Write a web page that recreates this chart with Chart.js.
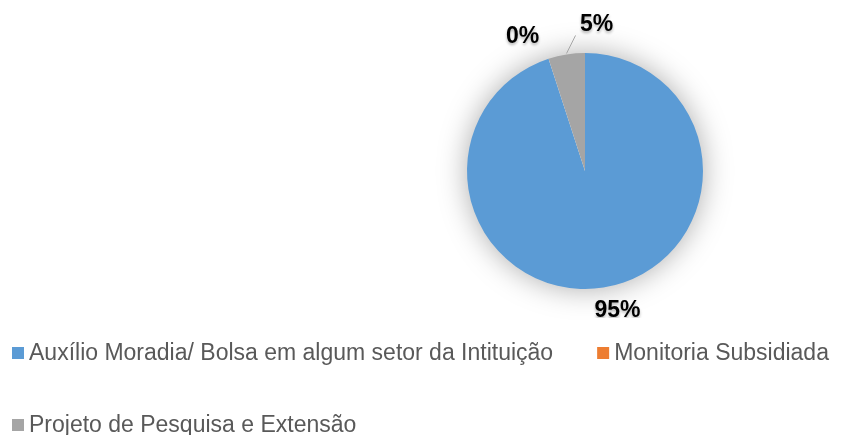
<!DOCTYPE html>
<html>
<head>
<meta charset="utf-8">
<script src="https://cdn.jsdelivr.net/npm/chart.js@4/dist/chart.umd.min.js"></script>
<style>
  html, body { margin: 0; padding: 0; background: #fff; }
  #wrap { width: 844px; height: 435px; position: relative; }
</style>
</head>
<body>
<div id="wrap"><canvas id="chart-pie"></canvas></div>
<script>
// --- data ---
const categories = [
  'Auxílio Moradia/ Bolsa em algum setor da Intituição',
  'Monitoria Subsidiada',
  'Projeto de Pesquisa e Extensão'
];
const shares = [95, 0, 5];
const sliceColors = ['#5B9BD5', '#ED7D31', '#A5A5A5'];

// label nudges from the slice edge (Excel moved some labels by hand)
const labelNudge = [[14, 23], [-26, -22], [30, -30]];
const leaderLine = [false, false, true];

const FONT = "'Liberation Sans', Arial, sans-serif";

// soft glow behind the pie
const pieShadow = {
  id: 'pieShadow',
  beforeDatasetsDraw(chart) {
    const arc = chart.getDatasetMeta(0).data[0];
    if (!arc) return;
    const ctx = chart.ctx;
    ctx.save();
    ctx.shadowColor = 'rgba(0,0,0,0.35)';
    ctx.shadowBlur = 30;
    ctx.fillStyle = '#fff';
    ctx.beginPath();
    ctx.arc(arc.x, arc.y, arc.outerRadius - 1, 0, Math.PI * 2);
    ctx.fill();
    ctx.restore();
  }
};

// percentage labels
const pctLabels = {
  id: 'pctLabels',
  afterDatasetsDraw(chart) {
    const ctx = chart.ctx;
    const meta = chart.getDatasetMeta(0);
    const data = chart.data.datasets[0].data;
    const total = data.reduce((a, b) => a + b, 0);
    ctx.save();
    ctx.beginPath();
    ctx.rect(0, 0, chart.width, 318);
    ctx.clip();
    meta.data.forEach((arc, i) => {
      const mid = (arc.startAngle + arc.endAngle) / 2;
      const ex = arc.x + Math.cos(mid) * arc.outerRadius;
      const ey = arc.y + Math.sin(mid) * arc.outerRadius;
      const lx = ex + labelNudge[i][0];
      const ly = ey + labelNudge[i][1];
      if (leaderLine[i]) {
        ctx.strokeStyle = '#A6A6A6';
        ctx.lineWidth = 1;
        ctx.beginPath();
        ctx.moveTo(ex, ey - 1);
        ctx.lineTo(lx - 21, ly + 11);
        ctx.stroke();
      }
      ctx.save();
      ctx.shadowColor = 'rgba(0,0,0,0.3)';
      ctx.shadowBlur = 3;
      ctx.shadowOffsetY = 2;
      ctx.fillStyle = '#000';
      ctx.font = 'bold 23px ' + FONT;
      ctx.textAlign = 'center';
      ctx.textBaseline = 'middle';
      ctx.fillText(Math.round(data[i] / total * 100) + '%', lx, ly);
      ctx.restore();
    });
    ctx.restore();
  }
};

// legend at the bottom, wrapped like the original
const bottomLegend = {
  id: 'bottomLegend',
  afterDraw(chart) {
    const ctx = chart.ctx;
    const colors = chart.data.datasets[0].backgroundColor;
    ctx.save();
    ctx.font = '23px ' + FONT;
    ctx.textBaseline = 'middle';
    ctx.textAlign = 'left';
    const left = 12, box = 12, gap = 5, itemGap = 44, rowH = 72;
    let x = left, y = 347;
    chart.data.labels.forEach((lab, i) => {
      const w = box + gap + ctx.measureText(lab).width;
      if (x > left && x + w > chart.width - 4) {
        x = left;
        y += rowH;
      }
      ctx.fillStyle = colors[i];
      ctx.fillRect(x, y, box, box);
      ctx.fillStyle = '#595959';
      ctx.fillText(lab, x + box + gap, y + box / 2 + 1);
      x += w + itemGap;
    });
    ctx.restore();
  }
};

new Chart(document.getElementById('chart-pie'), {
  type: 'pie',
  data: {
    labels: categories,
    datasets: [{
      data: shares,
      backgroundColor: sliceColors,
      borderWidth: 0
    }]
  },
  options: {
    responsive: true,
    maintainAspectRatio: false,
    animation: false,
    layout: { padding: { left: 467, right: 141, top: 53, bottom: 146 } },
    plugins: {
      legend: { display: false },
      tooltip: { enabled: false }
    }
  },
  plugins: [pieShadow, pctLabels, bottomLegend]
});
</script>
</body>
</html>
